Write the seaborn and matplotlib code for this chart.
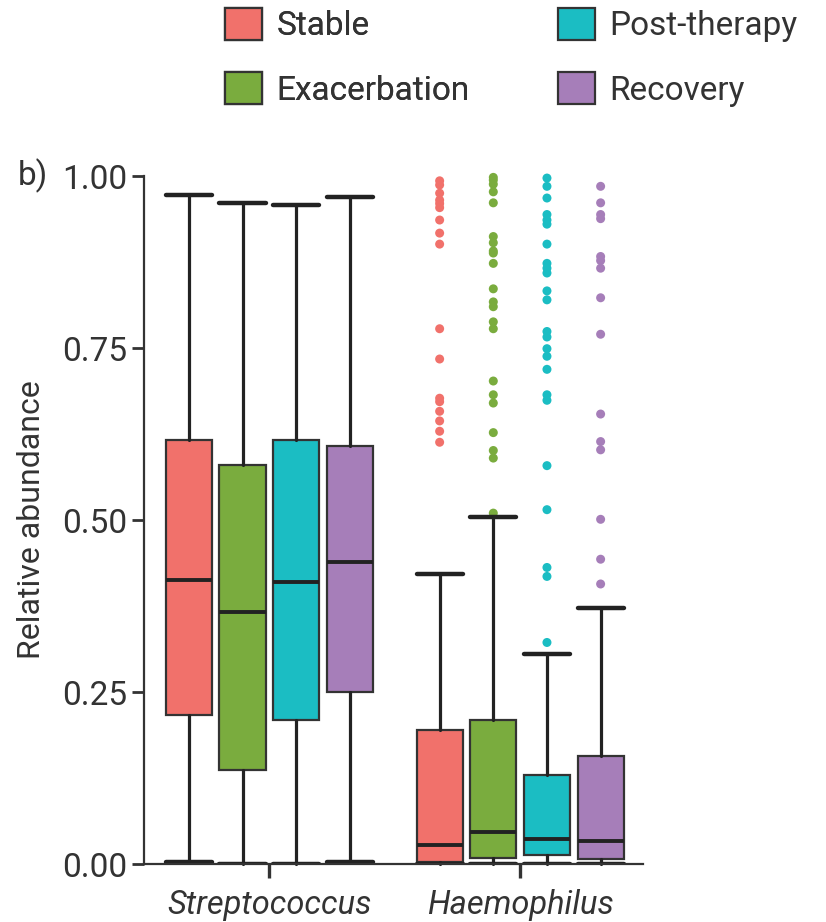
import matplotlib
matplotlib.use("Agg")
import matplotlib.pyplot as plt
from matplotlib.patches import Patch
import numpy as np
import pandas as pd
import seaborn as sns

# ---- data -------------------------------------------------------------
genera = ["Streptococcus", "Haemophilus"]
conditions = ["Stable", "Exacerbation", "Post-therapy", "Recovery"]
colors = ["#F1716B", "#7AAC3E", "#1BBDC3", "#A67EB9"]

# box statistics per genus, ordered as `conditions`
strep_low = [0.003, 0.000, 0.000, 0.003]
strep_q1 = [0.217, 0.136, 0.209, 0.250]
strep_med = [0.413, 0.366, 0.410, 0.439]
strep_q3 = [0.616, 0.580, 0.617, 0.607]
strep_high = [0.972, 0.961, 0.958, 0.969]

haem_low = [0.000, 0.000, 0.000, 0.000]
haem_q1 = [0.003, 0.009, 0.013, 0.007]
haem_med = [0.027, 0.047, 0.037, 0.033]
haem_q3 = [0.195, 0.209, 0.129, 0.157]
haem_high = [0.421, 0.504, 0.305, 0.372]

# Haemophilus outliers
haem_out_stable = [0.993, 0.987, 0.975, 0.965, 0.960, 0.954, 0.936, 0.917,
                   0.901, 0.778, 0.734, 0.677, 0.672, 0.658, 0.644, 0.629, 0.613]
haem_out_exacerbation = [0.998, 0.994, 0.988, 0.977, 0.961, 0.912, 0.903,
                         0.891, 0.888, 0.873, 0.836, 0.817, 0.810, 0.788,
                         0.778, 0.702, 0.682, 0.670, 0.627, 0.601, 0.590, 0.510]
haem_out_post = [0.997, 0.985, 0.968, 0.944, 0.936, 0.930, 0.901, 0.873,
                 0.866, 0.859, 0.833, 0.820, 0.774, 0.766, 0.749, 0.738,
                 0.719, 0.682, 0.674, 0.579, 0.515, 0.431, 0.418, 0.322]
haem_out_recovery = [0.985, 0.961, 0.944, 0.938, 0.883, 0.877, 0.866, 0.823,
                     0.770, 0.654, 0.614, 0.602, 0.501, 0.443, 0.407]

yticks = [0.00, 0.25, 0.50, 0.75, 1.00]
ytick_labels = ["0.00", "0.25", "0.50", "0.75", "1.00"]

# ---- style ------------------------------------------------------------
sns.set_theme(style="ticks")
plt.rcParams["font.family"] = ["Roboto", "DejaVu Sans"]
ink = "#333333"
plt.rcParams.update({
    "text.color": ink, "axes.labelcolor": ink,
    "xtick.color": ink, "ytick.color": ink, "axes.edgecolor": ink,
})

fig = plt.figure(figsize=(8.26, 9.22), dpi=100)
ax = fig.add_axes([144 / 826, 58 / 922, 499 / 826, 688 / 922])

step = 0.214
box_w = 0.184
offsets = [(i - 1.5) * step for i in range(len(conditions))]

stats_by_genus = [
    (strep_low, strep_q1, strep_med, strep_q3, strep_high),
    (haem_low, haem_q1, haem_med, haem_q3, haem_high),
]

for g, (lo, q1, med, q3, hi) in enumerate(stats_by_genus):
    for i, cond in enumerate(conditions):
        st = [{"whislo": lo[i], "q1": q1[i], "med": med[i], "q3": q3[i],
               "whishi": hi[i], "fliers": [], "label": cond}]
        pos = g + offsets[i]
        art = ax.bxp(st, positions=[pos], widths=[box_w], capwidths=[box_w],
                     patch_artist=True, showfliers=False, manage_ticks=False,
                     boxprops=dict(facecolor=colors[i], edgecolor=ink, linewidth=1.6),
                     whiskerprops=dict(color="#222222", linewidth=2.3),
                     capprops=dict(color="#222222", linewidth=3.2),
                     medianprops=dict(color="#222222", linewidth=2.8))
        for key in ("boxes", "whiskers", "medians"):
            for a in art[key]:
                a.set_clip_on(False)
                a.set_zorder(3)
        # caps stay clipped so a cap sitting on zero merges into the axis
        for a in art["caps"]:
            a.set_zorder(3)
        art["caps"][1].set_clip_on(False)

# outlier dots for Haemophilus
outliers = [haem_out_stable, haem_out_exacerbation, haem_out_post, haem_out_recovery]
rows = []
for i, (cond, vals) in enumerate(zip(conditions, outliers)):
    for v in vals:
        rows.append({"x": 1 + offsets[i], "value": v, "condition": cond})
df_out = pd.DataFrame(rows)
sns.scatterplot(data=df_out, x="x", y="value", hue="condition",
                hue_order=conditions, palette=colors, s=42, linewidth=0,
                legend=False, ax=ax, zorder=2, clip_on=False)

# ---- axes -------------------------------------------------------------
ax.set_xlim(-0.5, 1.49)
ax.set_ylim(0, 1.0)
ax.set_xticks([0, 1])
ax.set_xticklabels(genera, fontsize=23.5, style="italic")
ax.set_yticks(yticks)
ax.set_yticklabels(ytick_labels, fontsize=24)
ax.set_xlabel("")
ax.set_ylabel("Relative abundance", fontsize=23, labelpad=12)
ax.tick_params(axis="y", length=9, width=2.0, pad=3)
ax.tick_params(axis="x", length=10, width=2.4, pad=8)
for side in ("top", "right"):
    ax.spines[side].set_visible(False)
for side in ("left", "bottom"):
    ax.spines[side].set_linewidth(1.6)
    ax.spines[side].set_zorder(4)
ax.grid(False)

fig.text(18 / 826, 1 - 176 / 922, "b)", fontsize=24, va="center", ha="left")

# ---- legend -----------------------------------------------------------
handles = [Patch(facecolor=c, edgecolor=ink, linewidth=1.6, label=l)
           for c, l in zip(colors, conditions)]
leg_kw = dict(frameon=False, fontsize=24, loc="upper left", borderpad=0,
              borderaxespad=0, handlelength=1.12, handleheight=1.1,
              handletextpad=0.42, labelspacing=0.9)
leg1 = fig.legend(handles=handles[:2], bbox_to_anchor=(225 / 826, 1 - 8 / 922), **leg_kw)
fig.add_artist(leg1)
fig.legend(handles=handles[2:], bbox_to_anchor=(558 / 826, 1 - 8 / 922), **leg_kw)

fig.savefig("out.png", dpi=100)
